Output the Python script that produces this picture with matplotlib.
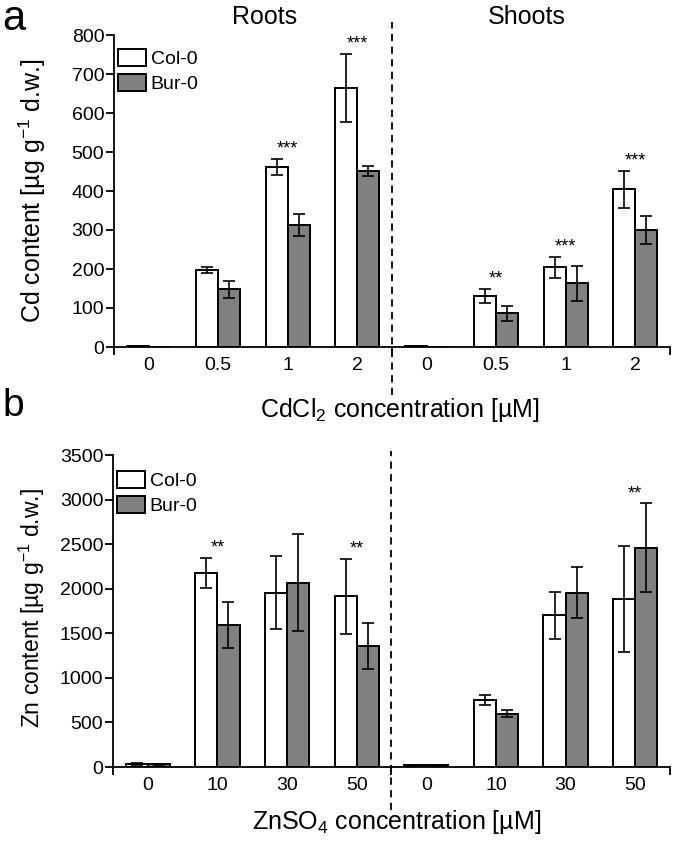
import numpy as np
import matplotlib
matplotlib.use("Agg")
import matplotlib.pyplot as plt
from matplotlib.patches import Patch

plt.rcParams["font.family"] = ["Liberation Sans", "DejaVu Sans"]
plt.rcParams["mathtext.fontset"] = "custom"
plt.rcParams["mathtext.rm"] = "Liberation Sans"
plt.rcParams["mathtext.it"] = "Liberation Sans:italic"

# Panel a: Cd content (roots groups 0-3, shoots groups 4-7)
cd_labels = ["0", "0.5", "1", "2", "0", "0.5", "1", "2"]
cd_col = [2, 198, 461, 664, 2, 132, 205, 404]
cd_col_err = [0, 7, 21, 88, 0, 18, 27, 47]
cd_bur = [1, 148, 313, 452, 1, 86, 163, 299]
cd_bur_err = [0, 22, 29, 13, 0, 19, 44, 36]
cd_sig = ["", "", "***", "***", "", "**", "***", "***"]

# Panel b: Zn content
zn_labels = ["0", "10", "30", "50", "0", "10", "30", "50"]
zn_col = [37, 2178, 1957, 1913, 22, 751, 1700, 1886]
zn_col_err = [12, 168, 405, 420, 4, 56, 267, 594]
zn_bur = [30, 1595, 2069, 1352, 19, 598, 1957, 2458]
zn_bur_err = [4, 256, 548, 258, 3, 37, 291, 499]
zn_sig = ["", "**", "", "**", "", "", "", "**"]

W, H = 675, 841
fig = plt.figure(figsize=(W / 100, H / 100), dpi=100)


def px_axes(left, top, right, bottom):
    return fig.add_axes([left / W, 1 - bottom / H, (right - left) / W, (bottom - top) / H])


def draw_panel(ax, labels, col, col_err, bur, bur_err, sig, ymax, ystep, dash_lim, leg_top):
    x = np.arange(len(labels))
    w = 0.317
    ax.bar(x - w / 2, col, w, color="white", edgecolor="black", linewidth=1.4, label="Col-0", zorder=2)
    ax.bar(x + w / 2, bur, w, color="#808080", edgecolor="black", linewidth=1.4, label="Bur-0", zorder=2)
    for i in range(len(x)):
        if col_err[i] > 0:
            ax.errorbar(x[i] - w / 2, col[i], yerr=col_err[i], fmt="none", ecolor="black",
                        elinewidth=1.2, capsize=4, capthick=1.2, zorder=3)
        if bur_err[i] > 0:
            ax.errorbar(x[i] + w / 2, bur[i], yerr=bur_err[i], fmt="none", ecolor="black",
                        elinewidth=1.2, capsize=4, capthick=1.2, zorder=3)
        if sig[i]:
            top = max(col[i] + col_err[i], bur[i] + bur_err[i])
            ax.annotate(sig[i], (x[i], top), xytext=(0, 1), textcoords="offset points",
                        ha="center", va="bottom", fontsize=13)

    ax.set_xlim(-0.5, 7.5)
    ax.set_ylim(0, ymax)
    ax.set_yticks(np.arange(0, ymax + 1, ystep))
    ax.set_xticks([-0.5, 3.5, 7.5])
    ax.set_xticklabels([])
    ax.set_xticks(x, minor=True)
    ax.set_xticklabels(labels, minor=True)
    ax.tick_params(axis="x", which="major", length=6, width=1.3, direction="out")
    ax.tick_params(axis="x", which="minor", length=0, pad=7, labelsize=14)
    ax.tick_params(axis="y", length=6, width=1.3, labelsize=14, pad=1)
    for s in ["top", "right"]:
        ax.spines[s].set_visible(False)
    for s in ["left", "bottom"]:
        ax.spines[s].set_linewidth(1.3)

    ax.axvline(3.5, ymin=dash_lim[0], ymax=dash_lim[1], color="black", lw=1.3,
               ls=(0, (4, 3)), clip_on=False, zorder=1)

    handles = [Patch(facecolor="white", edgecolor="black", linewidth=1.4, label="Col-0"),
               Patch(facecolor="#808080", edgecolor="black", linewidth=1.4, label="Bur-0")]
    ax.legend(handles=handles, loc="upper left", bbox_to_anchor=(0.008, leg_top), frameon=False,
              fontsize=14, handlelength=1.4, handleheight=0.95, handletextpad=0.25,
              labelspacing=0.3, borderaxespad=0, borderpad=0)


ax_a = px_axes(114, 35, 670, 347)
draw_panel(ax_a, cd_labels, cd_col, cd_col_err, cd_bur, cd_bur_err, cd_sig,
           800, 100, (-0.154, 1.042), 0.955)

ax_b = px_axes(113, 455, 670, 767)
draw_panel(ax_b, zn_labels, zn_col, zn_col_err, zn_bur, zn_bur_err, zn_sig,
           3500, 500, (-0.138, 1.013), 0.948)

# labels and panel letters
fig.text(2 / W, 1 - 30 / H, "a", fontsize=30, ha="left", va="baseline")
fig.text(2 / W, 1 - 416 / H, "b", fontsize=28, ha="left", va="baseline")
fig.text(265 / W, 1 - 17 / H, "Roots", fontsize=18, ha="center", va="center")
fig.text(527 / W, 1 - 17 / H, "Shoots", fontsize=18, ha="center", va="center")
fig.text(32 / W, 1 - 191 / H, "Cd content [µg g$^{-1}$ d.w.]", fontsize=18,
         rotation=90, ha="center", va="center")
fig.text(32 / W, 1 - 608 / H, "Zn content [µg g$^{-1}$ d.w.]", fontsize=16.5,
         rotation=90, ha="center", va="center")
fig.text(400 / W, 1 - 410 / H, "CdCl$_2$ concentration [µM]", fontsize=18,
         ha="center", va="center")
fig.text(397 / W, 1 - 822 / H, "ZnSO$_4$ concentration [µM]", fontsize=18,
         ha="center", va="center")

fig.savefig("out.png", dpi=100)
